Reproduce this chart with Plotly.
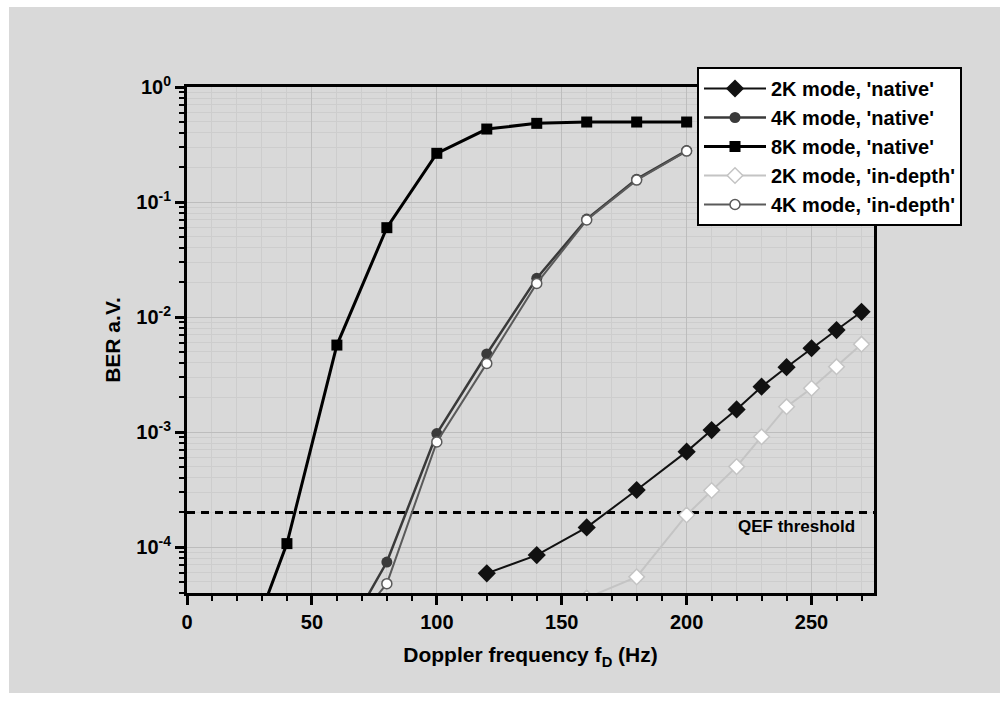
import plotly.graph_objects as go
import math

# ---------------- data ----------------
freq_8k = [30, 40, 60, 80, 100, 120, 140, 160, 180, 200]
ber_8k_native = [2.8e-5, 1.07e-4, 5.7e-3, 0.0598, 0.265, 0.431, 0.483, 0.496, 0.496, 0.496]

freq_4k = [60, 80, 100, 120, 140, 160, 180, 200]
ber_4k_native = [1.27e-5, 7.4e-5, 9.7e-4, 4.77e-3, 0.0217, 0.071, 0.158, 0.28]
ber_4k_indepth = [1.4e-5, 4.8e-5, 8.2e-4, 3.95e-3, 0.0196, 0.0697, 0.155, 0.277]

freq_2k_native = [120, 140, 160, 180, 200, 210, 220, 230, 240, 250, 260, 270]
ber_2k_native = [5.9e-5, 8.5e-5, 1.48e-4, 3.13e-4, 6.75e-4, 1.04e-3, 1.57e-3,
                 2.48e-3, 3.66e-3, 5.35e-3, 7.7e-3, 0.0111]

freq_2k_indepth = [160, 180, 200, 210, 220, 230, 240, 250, 260, 270]
ber_2k_indepth = [3.6e-5, 5.5e-5, 1.9e-4, 3.1e-4, 5.0e-4, 9.1e-4, 1.66e-3, 2.4e-3, 3.7e-3, 5.8e-3]

qef_threshold = 2e-4
threshold_x = [0, 275]

y_tick_vals = [1, 0.1, 0.01, 1e-3, 1e-4]
y_tick_text = ["10<sup>0</sup>", "10<sup>-1</sup>", "10<sup>-2</sup>", "10<sup>-3</sup>", "10<sup>-4</sup>"]
y_decades = [1e-5, 1e-4, 1e-3, 1e-2, 1e-1]
y_minor_digits = [2, 3, 4, 5, 6, 7, 8, 9]

x_range = [0, 275]
y_range_log = [-4.4, 0]

FONT = "Liberation Sans, Arial, sans-serif"

y_minor_vals = [d * m for d in y_decades for m in y_minor_digits]

fig = go.Figure()

fig.add_trace(go.Scatter(
    x=threshold_x, y=[qef_threshold, qef_threshold], mode="lines",
    line=dict(color="black", width=3, dash="8px,6px"), showlegend=False, hoverinfo="skip"))

fig.add_trace(go.Scatter(
    x=freq_2k_native, y=ber_2k_native, mode="lines+markers", name="2K mode, 'native'",
    line=dict(color="#111111", width=2),
    marker=dict(symbol="diamond", size=14, color="#111111", line=dict(width=0))))

fig.add_trace(go.Scatter(
    x=freq_4k, y=ber_4k_native, mode="lines+markers", name="4K mode, 'native'",
    line=dict(color="#3a3a3a", width=2.5),
    marker=dict(symbol="circle", size=11, color="#3a3a3a", line=dict(width=0))))

fig.add_trace(go.Scatter(
    x=freq_8k, y=ber_8k_native, mode="lines+markers", name="8K mode, 'native'",
    line=dict(color="black", width=3),
    marker=dict(symbol="square", size=11, color="black", line=dict(width=0))))

fig.add_trace(go.Scatter(
    x=freq_2k_indepth, y=ber_2k_indepth, mode="lines+markers", name="2K mode, 'in-depth'",
    line=dict(color="#c4c4c4", width=2),
    marker=dict(symbol="diamond", size=12, color="white", line=dict(width=1.5, color="#c4c4c4"))))

fig.add_trace(go.Scatter(
    x=freq_4k, y=ber_4k_indepth, mode="lines+markers", name="4K mode, 'in-depth'",
    line=dict(color="#5a5a5a", width=2),
    marker=dict(symbol="circle", size=10, color="white", line=dict(width=1.5, color="#5a5a5a"))))

# plot-area geometry (pixels)
L, R, T, B = 187, 874, 87, 593
W, H = 1000, 704
pw, ph = R - L, B - T

def px_x(p):
    return (p - L) / pw

def px_y(p):
    return (B - p) / ph

fig.add_shape(type="rect", xref="paper", yref="paper",
              x0=px_x(9), x1=px_x(1000), y0=px_y(693), y1=px_y(7),
              fillcolor="#d9d9d9", line=dict(width=0), layer="below")

fig.add_annotation(x=268, y=math.log10(qef_threshold), xref="x", yref="y",
                   text="<b>QEF threshold</b>", showarrow=False,
                   xanchor="right", yanchor="top", yshift=-3,
                   font=dict(family=FONT, size=17, color="black"))

fig.update_layout(
    width=W, height=H,
    margin=dict(l=L, r=W - R, t=T, b=H - B),
    paper_bgcolor="white",
    plot_bgcolor="#f1f1f1",
    font=dict(family=FONT, size=19, color="black"),
    legend=dict(
        x=px_x(697), y=px_y(67), xanchor="left", yanchor="top",
        bgcolor="white", bordercolor="black", borderwidth=2,
        font=dict(family=FONT, size=20, color="black", weight="bold"),
        itemwidth=62, tracegroupgap=0,
    ),
)

fig.update_xaxes(
    range=x_range, dtick=50, tick0=0,
    showline=True, linecolor="black", linewidth=3, mirror=True,
    ticks="outside", ticklen=9, tickwidth=2.5, tickcolor="black",
    tickfont=dict(family=FONT, size=20, color="black", weight="bold"),
    showgrid=True, gridcolor="#bdbdbd", gridwidth=1, zeroline=False,
    minor=dict(dtick=10, ticks="outside", ticklen=5, tickwidth=2, tickcolor="black",
               showgrid=True, gridcolor="#cdcdcd"),
    title=dict(text="<b>Doppler frequency f<sub>D</sub> (Hz)</b>",
               font=dict(family=FONT, size=21, color="black"), standoff=16),
)

fig.update_yaxes(
    type="log", range=y_range_log,
    tickmode="array", tickvals=y_tick_vals, ticktext=y_tick_text,
    showline=True, linecolor="black", linewidth=3, mirror=True,
    ticks="outside", ticklen=9, tickwidth=2.5, tickcolor="black",
    tickfont=dict(family=FONT, size=20, color="black", weight="bold"),
    showgrid=True, gridcolor="#bdbdbd", gridwidth=1, zeroline=False,
    minor=dict(tickmode="array", tickvals=y_minor_vals, ticks="outside", ticklen=5,
               tickwidth=2, tickcolor="black", showgrid=True, gridcolor="#cdcdcd"),
    title=dict(text="<b>BER a.V.</b>",
               font=dict(family=FONT, size=21, color="black"), standoff=10),
)

fig.write_html("out.html")
